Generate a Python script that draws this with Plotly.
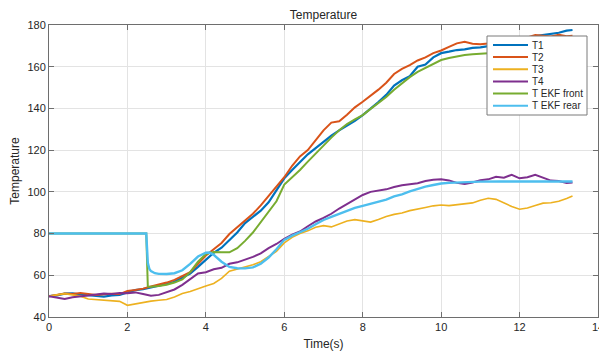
import plotly.graph_objects as go

# ---------------- data ----------------
TIME = [0.0, 0.2, 0.4, 0.6, 0.8, 1.0, 1.2, 1.4, 1.6, 1.8,
        2.0, 2.2, 2.4, 2.6, 2.8, 3.0, 3.2, 3.4, 3.6, 3.8,
        4.0, 4.2, 4.4, 4.6, 4.8, 5.0, 5.2, 5.4, 5.6, 5.8,
        6.0, 6.2, 6.4, 6.6, 6.8, 7.0, 7.2, 7.4, 7.6, 7.8,
        8.0, 8.2, 8.4, 8.6, 8.8, 9.0, 9.2, 9.4, 9.6, 9.8,
        10.0, 10.2, 10.4, 10.6, 10.8, 11.0, 11.2, 11.4, 11.6, 11.8,
        12.0, 12.2, 12.4, 12.6, 12.8, 13.0, 13.2, 13.35]

T1 = [50.0, 50.4, 51.2, 51.3, 50.8, 50.5, 50.2, 49.8, 50.3, 50.6,
      51.8, 52.9, 53.4, 54.2, 54.9, 55.8, 56.9, 58.9, 60.8, 64.0,
      67.5, 70.8, 73.2, 77.0, 80.5, 85.0, 88.0, 91.0, 95.0, 101.0,
      106.5, 110.5, 114.5, 118.0, 121.0, 124.0, 127.0, 129.5, 131.8, 134.0,
      136.8, 139.8, 143.0, 146.5, 151.0, 153.5, 155.5, 160.0, 161.0, 164.5,
      166.5, 167.2, 168.0, 168.3, 169.0, 169.3, 169.8, 170.5, 171.0, 171.8,
      172.5, 173.5, 174.7, 175.2, 176.0, 176.3, 177.3, 177.6]

T2 = [50.0, 50.8, 51.3, 51.0, 51.5, 51.0, 50.5, 50.9, 51.2, 51.0,
      52.5, 53.0, 53.6, 54.6, 55.4, 56.5, 57.8, 59.5, 61.5, 65.5,
      69.5, 72.5, 75.5, 79.8, 83.0, 86.5, 89.5, 93.5, 98.0, 103.0,
      107.0, 112.5, 117.0, 120.0, 125.0, 129.5, 133.2, 133.8, 137.0, 140.5,
      143.2, 146.0, 149.0, 152.3, 156.5, 159.0, 160.8, 163.0, 164.5, 166.5,
      167.8, 169.5, 171.2, 172.0, 171.0, 170.8, 171.0, 171.5, 172.5, 173.0,
      173.5, 174.0, 175.2, 175.0, 174.5, 175.3, 174.6, 174.8]

T3 = [50.0, 50.5, 51.2, 50.6, 50.0, 48.6, 48.3, 48.0, 47.8, 47.5,
      45.6, 46.3, 46.8, 47.6, 48.0, 48.4, 49.6, 51.3, 52.2, 53.7,
      54.9, 56.1, 58.5, 62.0, 63.0, 64.0, 65.0, 66.5, 68.8, 71.5,
      75.5, 78.2, 80.0, 81.3, 83.0, 83.8, 83.2, 84.6, 86.0, 86.7,
      86.0, 85.5, 86.8, 88.2, 89.2, 89.9, 91.0, 91.6, 92.5, 93.3,
      93.7, 93.4, 93.8, 94.0, 94.7, 96.0, 96.9, 96.4, 94.6, 93.0,
      91.7, 92.3, 93.5, 94.6, 94.8, 95.5, 96.8, 98.0]

T4 = [50.0, 49.2, 48.6, 49.5, 49.8, 50.3, 50.8, 51.3, 51.0, 51.5,
      51.4, 51.8, 51.0, 50.2, 50.6, 51.8, 53.2, 55.4, 58.0, 60.9,
      61.5, 62.9, 63.6, 65.5, 66.2, 67.4, 68.8, 70.5, 73.0, 75.0,
      77.5, 79.5, 81.0, 83.5, 85.8, 87.5, 89.5, 92.0, 94.2, 96.3,
      98.5, 100.0, 100.5, 101.2, 102.3, 103.2, 103.7, 104.1, 105.2, 105.8,
      106.0, 105.5, 104.3, 103.8, 104.5, 105.6, 106.0, 107.2, 106.8, 108.2,
      106.5, 107.0, 108.2, 106.8, 105.4, 105.2, 104.2, 104.5]

EKF_FRONT_TIME = [0.0, 2.48, 2.52,
                  2.6, 2.8, 3.0, 3.2, 3.4, 3.6, 3.8, 4.0, 4.2, 4.4,
                  4.6, 4.8, 5.0, 5.2, 5.4, 5.6, 5.8, 6.0, 6.2, 6.4,
                  6.6, 6.8, 7.0, 7.2, 7.4, 7.6, 7.8, 8.0, 8.2, 8.4,
                  8.6, 8.8, 9.0, 9.2, 9.4, 9.6, 9.8, 10.0, 10.2, 10.4,
                  10.6, 10.8, 11.0, 11.2, 11.4, 11.6, 11.8, 12.0, 12.2, 12.4,
                  12.6, 12.8, 13.0, 13.2, 13.35]
EKF_FRONT = [80.0, 80.0, 54.6,
             54.5, 54.9, 55.5, 56.5, 58.0, 61.5, 66.5, 70.2, 71.2, 71.0,
             71.0, 73.0, 76.5, 80.5, 85.5, 90.5, 95.5, 103.5, 107.0, 110.5,
             114.5, 118.5, 122.5, 126.0, 129.5, 132.5, 134.8, 136.8, 139.8, 142.5,
             145.5, 149.0, 152.0, 155.0, 157.5, 159.5, 161.5, 163.2, 164.2, 165.0,
             165.6, 166.0, 166.3, 166.5, 166.7, 166.8, 166.9, 167.0, 167.0, 167.1,
             167.1, 167.2, 167.2, 167.2, 167.2]

EKF_REAR_TIME = [0.0, 2.48, 2.52, 2.56, 2.6, 2.7, 2.8, 3.0, 3.2, 3.4,
                 3.6, 3.8, 4.0, 4.1, 4.2, 4.4, 4.6, 4.8, 5.0, 5.2,
                 5.4, 5.6, 5.8, 6.0, 6.2, 6.4, 6.6, 6.8, 7.0, 7.2,
                 7.4, 7.6, 7.8, 8.0, 8.2, 8.4, 8.6, 8.8, 9.0, 9.2,
                 9.4, 9.6, 9.8, 10.0, 10.2, 10.4, 10.6, 10.8, 11.0, 11.5,
                 12.0, 12.5, 13.0, 13.35]
EKF_REAR = [80.0, 80.0, 66.0, 63.0, 62.0, 61.0, 60.7, 60.6, 61.0, 62.4,
            65.5, 69.0, 70.8, 70.9, 69.8, 66.5, 64.0, 63.4, 63.3, 63.8,
            65.5, 68.5, 72.5, 77.0, 79.0, 80.5, 82.3, 84.5, 86.5, 88.0,
            89.5, 91.0, 92.3, 93.3, 94.3, 95.3, 96.3, 97.8, 98.8, 100.2,
            101.5, 102.5, 103.3, 104.0, 104.3, 104.5, 104.7, 104.8, 104.9, 105.0,
            105.0, 105.0, 105.0, 105.0]

SERIES_NAMES = ["T1", "T2", "T3", "T4", "T EKF front", "T EKF rear"]
X_TICKS = [0, 2, 4, 6, 8, 10, 12, 14]
Y_TICKS = [40, 60, 80, 100, 120, 140, 160, 180]

# ---------------- styling ----------------
COLORS = ["#0072BD", "#D95319", "#EDB120", "#7E2F8E", "#77AC30", "#4DBEEE"]
WIDTHS = [2.2, 2.0, 1.6, 2.0, 2.0, 2.4]
FONT = "Liberation Sans, Arial, Helvetica, sans-serif"
TXT = "#262626"
AXC = "#6e6e6e"

# the page body has an 8px margin, so the figure is drawn 8px smaller
OFF = 8
W, H = 607 - OFF, 361 - OFF
L, R, T, B = 49 - OFF, 9, 25 - OFF, 44
PW, PH = W - L - R, H - T - B

xs = [TIME, TIME, TIME, TIME, EKF_FRONT_TIME, EKF_REAR_TIME]
ys = [T1, T2, T3, T4, EKF_FRONT, EKF_REAR]

fig = go.Figure()
for name, x, y, c, w in zip(SERIES_NAMES, xs, ys, COLORS, WIDTHS):
    fig.add_trace(go.Scatter(x=x, y=y, mode="lines", name=name,
                             line=dict(color=c, width=w), showlegend=False))

axis_common = dict(showline=True, linecolor=AXC, linewidth=1, mirror="ticks",
                   ticks="inside", ticklen=5, tickcolor=AXC, tickwidth=1,
                   showgrid=True, gridcolor="#e3e3e3", gridwidth=1,
                   zeroline=False, tickfont=dict(family=FONT, size=11, color=TXT))

fig.update_xaxes(range=[0, 14], tickvals=X_TICKS, ticktext=[str(v) for v in X_TICKS],
                 title=dict(text="Time(s)", font=dict(family=FONT, size=12, color=TXT),
                            standoff=7), **axis_common)
fig.update_yaxes(range=[40, 180], tickvals=Y_TICKS, ticktext=[str(v) for v in Y_TICKS],
                 title=dict(text="Temperature", font=dict(family=FONT, size=12, color=TXT),
                            standoff=6), **axis_common)

# manual MATLAB-style compact legend (page pixel layout -> paper coordinates)
def px_x(px):
    return (px - OFF - L) / PW

def px_y(py):
    return (T + PH - (py - OFF)) / PH

shapes = [dict(type="rect", xref="paper", yref="paper",
               x0=px_x(487), x1=px_x(587), y0=px_y(115), y1=px_y(36),
               line=dict(color="#7a7a7a", width=1), fillcolor="white", layer="above")]
annotations = []
row_y = [45, 57, 69.2, 81.4, 93.6, 105.8]
for name, c, w, ry in zip(SERIES_NAMES, COLORS, WIDTHS, row_y):
    shapes.append(dict(type="line", xref="paper", yref="paper",
                       x0=px_x(493), x1=px_x(528), y0=px_y(ry), y1=px_y(ry),
                       line=dict(color=c, width=2), layer="above"))
    annotations.append(dict(xref="paper", yref="paper", x=px_x(530), y=px_y(ry),
                            text=name, showarrow=False, xanchor="left", yanchor="middle",
                            font=dict(family=FONT, size=10, color=TXT)))

fig.update_layout(
    width=W, height=H,
    margin=dict(l=L, r=R, t=T, b=B, autoexpand=False),
    paper_bgcolor="white", plot_bgcolor="white",
    title=dict(text="Temperature", x=(L + PW / 2) / W, xanchor="center",
               y=1 - (15 - OFF) / H, yanchor="middle",
               font=dict(family=FONT, size=12, color=TXT)),
    shapes=shapes, annotations=annotations, showlegend=False,
)

fig.write_html("out.html")
